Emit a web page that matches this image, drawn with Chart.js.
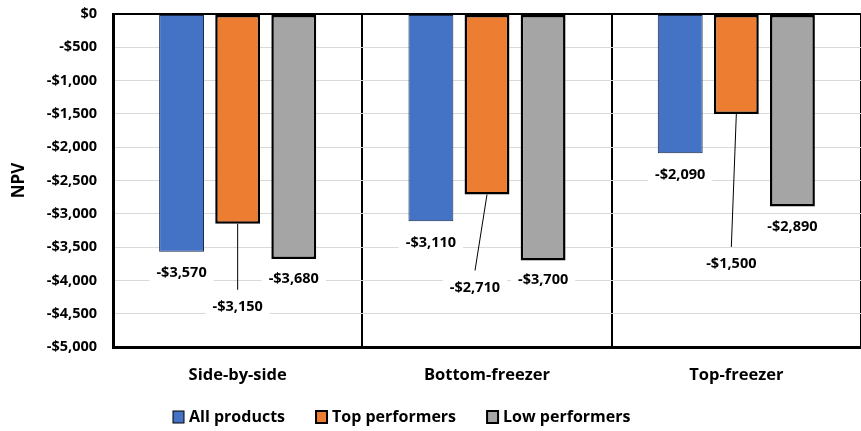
<!DOCTYPE html>
<html>
<head>
<meta charset="utf-8">
<script src="https://cdn.jsdelivr.net/npm/chart.js@4.4.1/dist/chart.umd.min.js"></script>
<style>
  html, body { margin: 0; padding: 0; background: #fff; }
  #wrap { width: 861px; height: 431px; position: relative; }
</style>
</head>
<body>
<div id="wrap"><canvas id="c" width="861" height="431"></canvas></div>
<script>
// ---- data ----
const categories = ['Side-by-side', 'Bottom-freezer', 'Top-freezer'];
const seriesNames = ['All products', 'Top performers', 'Low performers'];
const allProducts = [-3570, -3110, -2090];
const topPerformers = [-3150, -2710, -1500];
const lowPerformers = [-3680, -3700, -2890];
const yTicks = [0, -500, -1000, -1500, -2000, -2500, -3000, -3500, -4000, -4500, -5000];

// ---- styling / label layout (pixel offsets from each bar end) ----
const colors = ['#4472C4', '#ED7D31', '#A5A5A5'];
const borderW = [1, 2.5, 2.5];
const labelDx = [[0, 0, 0], [0, -12, -5], [0, 0, 0]];
const labelDy = [[21, 22, 22], [83, 93, 150], [20, 19, 20]];
const leader = [[false, false, false], [true, true, true], [false, false, false]];
const FONT = '"Open Sans", "Noto Sans", sans-serif';

function money(v) {
  if (v === 0) return '$0';
  return (v < 0 ? '-' : '') + '$' + Math.abs(v).toLocaleString('en-US');
}

const seriesValues = [allProducts, topPerformers, lowPerformers];

const labelPlugin = {
  id: 'barLabels',
  afterDatasetsDraw(chart) {
    const ctx = chart.ctx;
    ctx.save();
    ctx.font = 'bold 14.5px ' + FONT;
    ctx.textAlign = 'center';
    ctx.textBaseline = 'middle';
    chart.data.datasets.forEach((ds, i) => {
      const meta = chart.getDatasetMeta(i);
      meta.data.forEach((bar, j) => {
        const cx = bar.x + labelDx[i][j];
        const cy = bar.y + labelDy[i][j];
        const txt = money(ds.data[j]);
        if (leader[i][j]) {
          ctx.strokeStyle = '#000';
          ctx.lineWidth = 1;
          ctx.beginPath();
          ctx.moveTo(bar.x, bar.y);
          ctx.lineTo(cx, cy - 17);
          ctx.stroke();
        }
        const w = ctx.measureText(txt).width + 14;
        ctx.fillStyle = '#fff';
        ctx.fillRect(cx - w / 2, cy - 12, w, 24);
        ctx.fillStyle = '#000';
        ctx.fillText(txt, cx, cy);
      });
    });
    ctx.restore();
  }
};

const legendPlugin = {
  id: 'customLegend',
  afterDraw(chart) {
    const ctx = chart.ctx;
    ctx.save();
    ctx.font = 'bold 16px ' + FONT;
    ctx.textBaseline = 'middle';
    ctx.textAlign = 'left';
    let x = 173;
    const y = 417;
    seriesNames.forEach((name, i) => {
      ctx.fillStyle = colors[i];
      ctx.fillRect(x, y - 6, 11, 12);
      ctx.strokeStyle = '#000';
      ctx.lineWidth = i === 0 ? 1 : 2;
      ctx.strokeRect(x, y - 6, 11, 12);
      ctx.fillStyle = '#000';
      ctx.fillText(name, x + 16, y);
      x += 16 + ctx.measureText(name).width + 31;
    });
    ctx.restore();
  }
};

new Chart(document.getElementById('c'), {
  type: 'bar',
  data: {
    labels: categories,
    datasets: seriesNames.map((n, i) => ({
      label: n,
      data: seriesValues[i],
      backgroundColor: colors[i],
      borderColor: i === 0 ? '#1a2a4a' : '#000',
      borderWidth: borderW[i],
      borderSkipped: false,
      categoryPercentage: 0.675,
      barPercentage: 0.8
    }))
  },
  options: {
    responsive: false,
    animation: false,
    layout: { padding: { top: 14, right: 0, bottom: 0, left: 0 } },
    plugins: { legend: { display: false }, tooltip: { enabled: false } },
    scales: {
      x: {
        offset: true,
        afterFit(s) { s.height = 84; s.paddingLeft = 0; s.paddingRight = 0; },
        grid: { offset: true, color: '#000', lineWidth: 2, drawTicks: false },
        border: { color: '#000', width: 3 },
        ticks: { color: '#000', padding: 18, font: { family: FONT, size: 16.5, weight: 'bold' } }
      },
      y: {
        min: -5000,
        max: 0,
        afterFit(s) { s.width = 113; s.paddingTop = 0; s.paddingBottom = 0; },
        afterBuildTicks(s) { s.ticks = yTicks.map(v => ({ value: v })); },
        grid: {
          drawTicks: false,
          color: c => (c.tick && c.tick.value === 0) ? '#000' : '#d9d9d9',
          lineWidth: c => (c.tick && c.tick.value === 0) ? 2 : 1
        },
        border: { color: '#000', width: 3 },
        title: { display: true, text: 'NPV', color: '#000', padding: { top: 9, bottom: 0 }, font: { family: FONT, size: 17, weight: 'bold' } },
        ticks: { color: '#000', padding: 16, callback: v => money(v), font: { family: FONT, size: 14.5, weight: 'bold' } }
      }
    }
  },
  plugins: [labelPlugin, legendPlugin]
});
</script>
</body>
</html>
